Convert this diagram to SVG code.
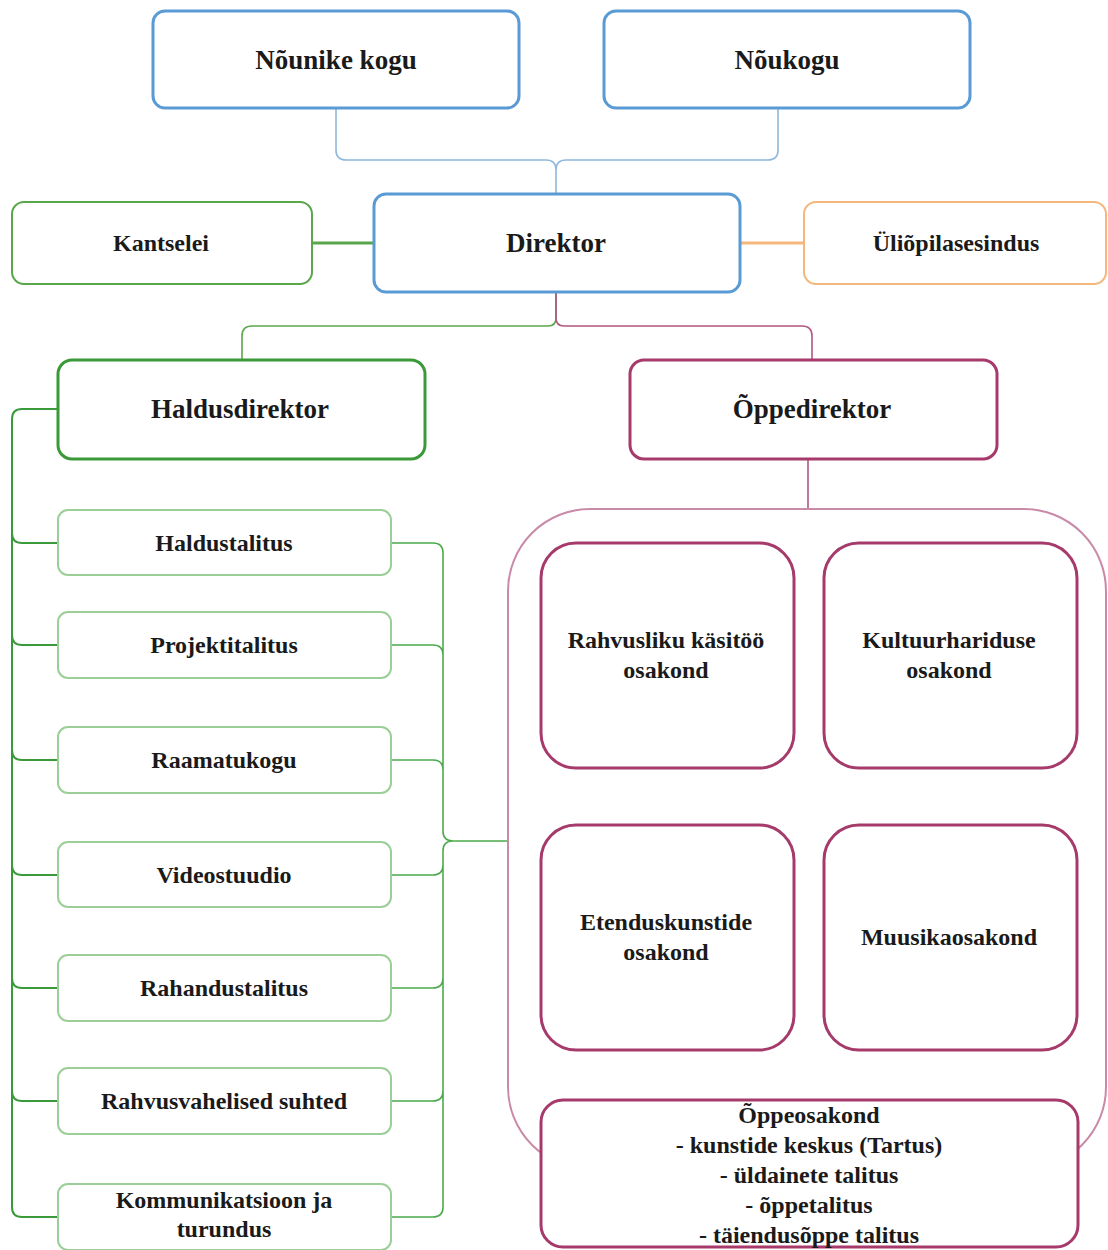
<svg xmlns="http://www.w3.org/2000/svg" width="1108" height="1250" viewBox="0 0 1108 1250">
<style>
text{font-family:"Liberation Serif","Times New Roman",serif;font-weight:bold;fill:#1a1a1a;text-anchor:middle;dominant-baseline:central}
.h{font-size:27px}
.t{font-size:24px}
.blue{fill:#fff;stroke:#5b9bd5;stroke-width:3}
.gthin{fill:#fff;stroke:#9ccf98;stroke-width:2}
.gk{fill:#fff;stroke:#5aa64a;stroke-width:2}
.gthick{fill:#fff;stroke:#3a9a3a;stroke-width:3}
.org{fill:#fff;stroke:#f4b77c;stroke-width:2}
.mar{fill:#fff;stroke:#a53a6b;stroke-width:3}
.c{fill:none;stroke-width:1.6}
.w3{stroke-width:3}
.w2{stroke-width:2}
</style>
<rect width="1108" height="1250" fill="#fff"/>
<g id="connectors">
<path class="c" stroke="#8fb8dc" d="M336,108 V150 Q336,160 346,160 H546 Q556,160 556,170 V193 M778,108 V150 Q778,160 768,160 H566 Q556,160 556,170"/>
<path class="c w3" stroke="#5aa64a" d="M312,243 H374"/>
<path class="c w3" stroke="#f4b77c" d="M740,243 H804"/>
<path class="c" stroke="#5aa64a" d="M556,292 V318 Q556,326 548,326 H252 Q242,326 242,336 V360"/>
<path class="c" stroke="#b0577f" d="M556,292 V318 Q556,326 564,326 H802 Q812,326 812,336 V360"/>
<path class="c w2" stroke="#3a9a3a" d="M57,409 H22 Q12,409 12,419 V1207 Q12,1217 22,1217 H58 M12,533 Q12,543 22,543 H58 M12,635 Q12,645 22,645 H58 M12,750 Q12,760 22,760 H58 M12,865 Q12,875 22,875 H58 M12,978 Q12,988 22,988 H58 M12,1091 Q12,1101 22,1101 H58"/>
<path class="c" stroke="#4caa4c" d="M391,543 H433 Q443,543 443,553 V831 Q443,841 453,841 M391,645 H433 Q443,645 443,655 V831 M391,760 H433 Q443,760 443,770 V831 M391,875 H433 Q443,875 443,865 V851 Q443,841 453,841 M391,988 H433 Q443,988 443,978 V851 M391,1101 H433 Q443,1101 443,1091 V851 M391,1217 H433 Q443,1217 443,1207 V851 M453,841 H508"/>
<path class="c" stroke="#b0577f" d="M808,459 V509"/>
</g>
<g id="container">
<rect x="508" y="509" width="598" height="660" rx="82" fill="none" stroke="#c98aa8" stroke-width="2"/>
</g>
<g id="nounike-kogu"><rect class="blue" x="153" y="11" width="366" height="97" rx="12"/><text class="h" x="336" y="60">Nõunike kogu</text></g>
<g id="noukogu"><rect class="blue" x="604" y="11" width="366" height="97" rx="12"/><text class="h" x="787" y="60">Nõukogu</text></g>
<g id="direktor"><rect class="blue" x="374" y="194" width="366" height="98" rx="12"/><text class="h" x="556" y="243">Direktor</text></g>
<g id="kantselei"><rect class="gk" x="12" y="202" width="300" height="82" rx="12"/><text class="t" x="161" y="243">Kantselei</text></g>
<g id="uliopilasesindus"><rect class="org" x="804" y="202" width="302" height="82" rx="12"/><text class="t" x="956" y="243">Üliõpilasesindus</text></g>
<g id="haldusdirektor"><rect class="gthick" x="58" y="360" width="367" height="99" rx="14"/><text class="h" x="240" y="409">Haldusdirektor</text></g>
<g id="oppedirektor"><rect class="mar" x="630" y="360" width="367" height="99" rx="14"/><text class="h" x="812" y="409">Õppedirektor</text></g>
<g id="haldustalitus"><rect class="gthin" x="58" y="510" width="333" height="65" rx="10"/><text class="t" x="224" y="543">Haldustalitus</text></g>
<g id="projektitalitus"><rect class="gthin" x="58" y="612" width="333" height="66" rx="10"/><text class="t" x="224" y="645">Projektitalitus</text></g>
<g id="raamatukogu"><rect class="gthin" x="58" y="727" width="333" height="66" rx="10"/><text class="t" x="224" y="760">Raamatukogu</text></g>
<g id="videostuudio"><rect class="gthin" x="58" y="842" width="333" height="65" rx="10"/><text class="t" x="224" y="875">Videostuudio</text></g>
<g id="rahandustalitus"><rect class="gthin" x="58" y="955" width="333" height="66" rx="10"/><text class="t" x="224" y="988">Rahandustalitus</text></g>
<g id="rahvusvahelised"><rect class="gthin" x="58" y="1068" width="333" height="66" rx="10"/><text class="t" x="224" y="1101">Rahvusvahelised suhted</text></g>
<g id="kommunikatsioon"><rect class="gthin" x="58" y="1184" width="333" height="66" rx="10"/><text class="t" x="224" y="1200">Kommunikatsioon ja</text><text class="t" x="224" y="1229">turundus</text></g>
<g id="rahvusliku"><rect class="mar" x="541" y="543" width="253" height="225" rx="35"/><text class="t" x="666" y="640">Rahvusliku käsitöö</text><text class="t" x="666" y="670">osakond</text></g>
<g id="kultuurhariduse"><rect class="mar" x="824" y="543" width="253" height="225" rx="35"/><text class="t" x="949" y="640">Kultuurhariduse</text><text class="t" x="949" y="670">osakond</text></g>
<g id="etenduskunstide"><rect class="mar" x="541" y="825" width="253" height="225" rx="35"/><text class="t" x="666" y="922">Etenduskunstide</text><text class="t" x="666" y="952">osakond</text></g>
<g id="muusikaosakond"><rect class="mar" x="824" y="825" width="253" height="225" rx="35"/><text class="t" x="949" y="937">Muusikaosakond</text></g>
<g id="oppeosakond"><rect class="mar" x="541" y="1100" width="537" height="147" rx="22"/>
<text class="t" x="809" y="1115">Õppeosakond</text>
<text class="t" x="809" y="1145">- kunstide keskus (Tartus)</text>
<text class="t" x="809" y="1175">- üldainete talitus</text>
<text class="t" x="809" y="1205">- õppetalitus</text>
<text class="t" x="809" y="1235">- täiendusõppe talitus</text></g>
</svg>
